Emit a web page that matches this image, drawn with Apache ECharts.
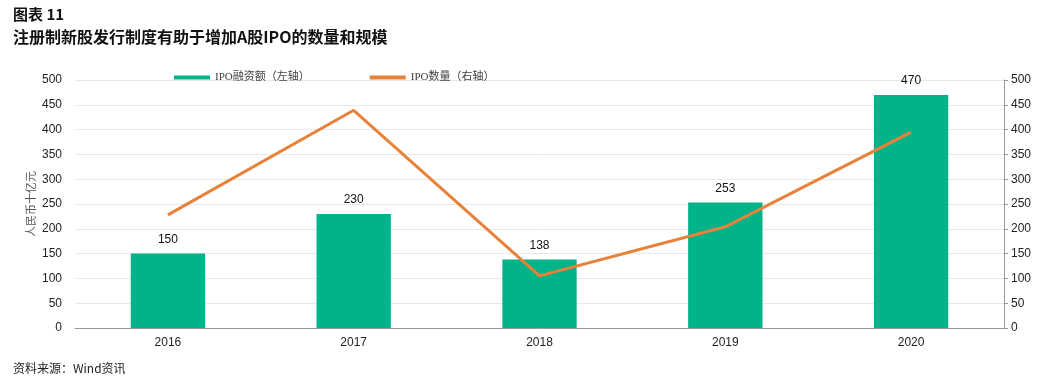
<!DOCTYPE html>
<html>
<head>
<meta charset="utf-8">
<script src="https://cdn.jsdelivr.net/npm/echarts@6/dist/echarts.min.js"></script>
<style>
  html, body { margin: 0; padding: 0; background: #fff; }
  #chart { width: 1040px; height: 378px; }
</style>
</head>
<body>
<div id="chart"></div>
<script>
// data
var years = ['2016', '2017', '2018', '2019', '2020'];
var ipoAmount = [150, 230, 138, 253, 470];   // 左轴, 人民币十亿元
var ipoCount = [228, 439, 105, 204, 395];    // 右轴
var yTicks = { min: 0, max: 500, interval: 50 };

var chart = echarts.init(document.getElementById('chart'));
var font = '"Noto Sans CJK SC", "Liberation Sans", sans-serif';
var numFont = '"Liberation Sans", Arial, sans-serif';
var serifFont = '"Liberation Serif", "Noto Sans CJK SC", serif';

chart.setOption({
  animation: false,
  textStyle: { fontFamily: font },
  title: [
    {
      text: '图表 11',
      left: 8, top: 2,
      textStyle: { fontSize: 15, fontWeight: 'bold', color: '#111', fontFamily: font }
    },
    {
      text: '注册制新股发行制度有助于增加A股IPO的数量和规模',
      left: 8, top: 24,
      textStyle: { fontSize: 16, fontWeight: 'bold', color: '#111', fontFamily: font }
    },
    {
      text: '资料来源：Wind资讯',
      left: 8, top: 357,
      textStyle: { fontSize: 12, fontWeight: 'normal', color: '#222', fontFamily: font }
    }
  ],
  // 左轴单位, 竖排
  graphic: [{
    type: 'text',
    x: 32, y: 204,
    rotation: Math.PI / 2,
    style: {
      text: '人民币十亿元',
      fill: '#555',
      font: '11px ' + serifFont,
      align: 'center',
      verticalAlign: 'middle'
    }
  }],
  legend: {
    top: 67,
    left: 169,
    itemGap: 60,
    itemWidth: 36,
    itemHeight: 4,
    textStyle: { fontSize: 11, color: '#444', fontFamily: serifFont },
    data: [
      { name: 'IPO融资额（左轴）', icon: 'rect' },
      { name: 'IPO数量（右轴）', icon: 'rect' }
    ]
  },
  grid: { left: 75, right: 36, top: 80, bottom: 50 },
  xAxis: {
    type: 'category',
    data: years,
    axisLine: { lineStyle: { color: '#999' } },
    axisTick: { show: false },
    axisLabel: { color: '#222', fontSize: 12, margin: 9, fontFamily: numFont }
  },
  yAxis: [
    {
      type: 'value',
      min: yTicks.min, max: yTicks.max, interval: yTicks.interval,
      axisLine: { show: false },
      axisTick: { show: false },
      axisLabel: { color: '#222', fontSize: 12, margin: 13, fontFamily: numFont },
      splitLine: { lineStyle: { color: '#e8e8e8' } }
    },
    {
      type: 'value',
      min: yTicks.min, max: yTicks.max, interval: yTicks.interval,
      position: 'right',
      axisLine: { show: true, lineStyle: { color: '#999' } },
      axisTick: { show: true, length: 4, lineStyle: { color: '#999' } },
      axisLabel: { color: '#222', fontSize: 12, margin: 7, fontFamily: numFont },
      splitLine: { show: false }
    }
  ],
  series: [
    {
      name: 'IPO融资额（左轴）',
      type: 'bar',
      yAxisIndex: 0,
      barWidth: '40%',
      itemStyle: { color: '#00b388' },
      label: { show: true, position: 'top', color: '#111', fontSize: 12, distance: 8, fontFamily: numFont },
      data: ipoAmount
    },
    {
      name: 'IPO数量（右轴）',
      type: 'line',
      yAxisIndex: 1,
      symbol: 'none',
      lineStyle: { color: '#e8823a', width: 3 },
      itemStyle: { color: '#e8823a' },
      data: ipoCount
    }
  ]
});
</script>
</body>
</html>
